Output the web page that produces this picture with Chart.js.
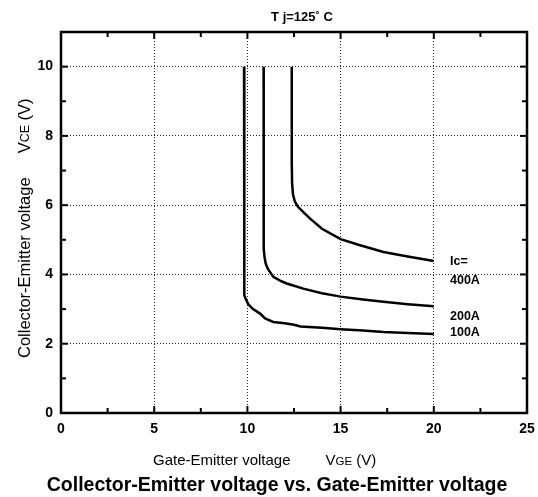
<!DOCTYPE html>
<html>
<head>
<meta charset="utf-8">
<script src="https://cdn.jsdelivr.net/npm/chart.js@4"></script>
<style>
html,body{margin:0;padding:0;background:#fff;}
#wrap{width:538px;height:497px;}
</style>
</head>
<body>
<div id="wrap"><canvas id="c" width="538" height="497"></canvas></div>
<script>
// ---- data ----
const vge100 = [9.82, 9.82, 9.83, 9.85, 9.92, 10.05, 10.3, 10.68, 10.95, 11.39, 12.0, 12.5, 12.85, 14.0, 15.0, 16.2, 17.3, 18.6, 20.0];
const vce100 = [10.0, 6.0, 4.0, 3.4, 3.28, 3.14, 3.0, 2.87, 2.73, 2.63, 2.59, 2.55, 2.5, 2.46, 2.42, 2.38, 2.34, 2.31, 2.28];

const vge200 = [10.87, 10.87, 10.88, 10.92, 10.98, 11.1, 11.39, 11.75, 12.11, 13.0, 14.0, 15.0, 16.2, 17.3, 18.6, 20.0];
const vce200 = [10.0, 6.0, 4.75, 4.5, 4.32, 4.16, 3.93, 3.82, 3.74, 3.59, 3.46, 3.36, 3.28, 3.21, 3.14, 3.08];

const vge400 = [12.38, 12.38, 12.4, 12.45, 12.55, 12.72, 13.0, 13.35, 14.0, 15.0, 16.0, 17.3, 18.6, 20.0];
const vce400 = [10.0, 7.2, 6.6, 6.3, 6.1, 5.95, 5.8, 5.62, 5.32, 5.02, 4.85, 4.65, 4.52, 4.39];

const seriesLabels = ["100A", "200A", "400A"];
const xMajorTicks = [0, 5, 10, 15, 20, 25];
const xMinorTicks = [2.5, 7.5, 12.5, 17.5, 22.5];
const yMajorTicks = [0, 2, 4, 6, 8, 10];
const yMinorTicks = [1, 3, 5, 7, 9];

const toPts = (xs, ys) => xs.map((v, i) => ({x: v, y: ys[i]}));

const FONT = '"Liberation Sans", Arial, Helvetica, sans-serif';

const decor = {
  id: 'decor',
  afterDraw(chart) {
    const {ctx, chartArea: a, scales: {x, y}} = chart;
    ctx.save();
    ctx.strokeStyle = '#000';
    ctx.lineCap = 'butt';
    const line = (x1, y1, x2, y2) => { ctx.beginPath(); ctx.moveTo(x1, y1); ctx.lineTo(x2, y2); ctx.stroke(); };
    // inward ticks
    ctx.lineWidth = 2;
    xMajorTicks.forEach(v => { const p = x.getPixelForValue(v); line(p, a.bottom, p, a.bottom - 7); line(p, a.top, p, a.top + 7); });
    xMinorTicks.forEach(v => { const p = x.getPixelForValue(v); line(p, a.bottom, p, a.bottom - 5); line(p, a.top, p, a.top + 5); });
    yMajorTicks.forEach(v => { const p = y.getPixelForValue(v); line(a.left, p, a.left + 7, p); line(a.right, p, a.right - 7, p); });
    yMinorTicks.forEach(v => { const p = y.getPixelForValue(v); line(a.left, p, a.left + 5, p); line(a.right, p, a.right - 5, p); });
    // frame
    ctx.lineWidth = 2.5;
    ctx.strokeRect(a.left, a.top, a.right - a.left, a.bottom - a.top);

    ctx.fillStyle = '#000';
    ctx.textBaseline = 'middle';
    // top title
    ctx.textAlign = 'center';
    ctx.font = 'bold 13px ' + FONT;
    ctx.fillText('T j=125˚ C', 302, 17);

    // series labels
    ctx.textAlign = 'left';
    ctx.font = 'bold 12.5px ' + FONT;
    const lx = 450;
    ctx.fillText('Ic=', lx, 262);
    ctx.fillText(seriesLabels[2], lx, 281);
    ctx.fillText(seriesLabels[1], lx, 317);
    ctx.fillText(seriesLabels[0], lx, 333);

    // axis titles with small-cap subscript
    const drawParts = (parts, startX, cy) => {
      let xx = startX;
      ctx.textAlign = 'left';
      parts.forEach(p => { ctx.font = p[1]; ctx.fillText(p[0], xx + (p[3] || 0), cy + (p[2] || 0)); xx += ctx.measureText(p[0]).width + (p[3] || 0); });
    };
    const regX = '15px ' + FONT, smX = '11.5px ' + FONT;
    drawParts([['Gate-Emitter voltage', regX], ['V', regX, 0, 35], ['GE', smX, 0.5], [' (V)', regX]], 153, 461);

    ctx.save();
    ctx.translate(25, 220);
    ctx.rotate(-Math.PI / 2);
    const regY = '16.5px ' + FONT, smY = '12.5px ' + FONT;
    drawParts([['Collector-Emitter voltage', regY], ['V', regY, 0, 24], ['CE', smY, 0.5], [' (V)', regY]], -138, 0);
    ctx.restore();

    // bottom caption
    ctx.textAlign = 'center';
    ctx.font = 'bold 19.5px ' + FONT;
    ctx.fillText('Collector-Emitter voltage vs. Gate-Emitter voltage', 277, 486);
    ctx.restore();
  }
};

const ds = (xs, ys) => ({
  data: toPts(xs, ys),
  borderColor: '#000',
  borderWidth: 2.5,
  pointRadius: 0,
  showLine: true,
  tension: 0,
  fill: false
});

new Chart(document.getElementById('c'), {
  type: 'scatter',
  data: { datasets: [ds(vge100, vce100), ds(vge200, vce200), ds(vge400, vce400)] },
  options: {
    responsive: false,
    animation: false,
    events: [],
    layout: { padding: { top: 32, right: 11, left: 0, bottom: 0 } },
    plugins: { legend: { display: false }, tooltip: { enabled: false }, title: { display: false } },
    scales: {
      x: {
        type: 'linear', min: 0, max: 25,
        afterFit: s => { s.height = 84; s.paddingLeft = 0; s.paddingRight = 0; },
        afterBuildTicks: s => { s.ticks = xMajorTicks.map(v => ({value: v})); },
        ticks: { color: '#000', font: { family: FONT, size: 14, weight: 'bold' }, padding: 8, maxRotation: 0 },
        grid: { drawTicks: false, color: c => (c.tick && (c.tick.value === 0 || c.tick.value === 25)) ? 'rgba(0,0,0,0)' : '#222', lineWidth: 1 },
        border: { display: false, dash: [1, 2] }
      },
      y: {
        type: 'linear', min: 0, max: 11,
        afterFit: s => { s.width = 61; s.paddingTop = 0; s.paddingBottom = 0; },
        afterBuildTicks: s => { s.ticks = yMajorTicks.map(v => ({value: v})); },
        ticks: { color: '#000', font: { family: FONT, size: 14, weight: 'bold' }, padding: 8 },
        grid: { drawTicks: false, color: c => (c.tick && c.tick.value === 0) ? 'rgba(0,0,0,0)' : '#222', lineWidth: 1 },
        border: { display: false, dash: [1, 2] }
      }
    }
  },
  plugins: [decor]
});
</script>
</body>
</html>
